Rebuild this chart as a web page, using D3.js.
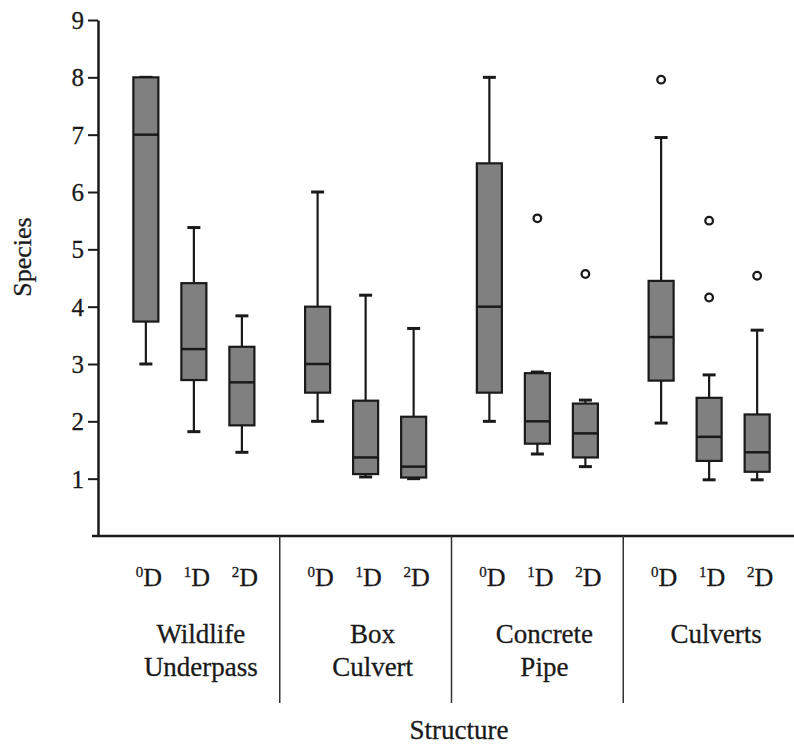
<!DOCTYPE html>
<html>
<head>
<meta charset="utf-8">
<script src="https://cdn.jsdelivr.net/npm/d3@7"></script>
<style>
  html, body { margin: 0; padding: 0; background: #fff; }
  svg { display: block; }
</style>
</head>
<body>
<svg id="chart" width="794" height="744"></svg>
<script>
// ---- data ----
const structures = ["Wildlife Underpass", "Box Culvert", "Concrete Pipe", "Culverts"];
const structureLabelLines = [["Wildlife", "Underpass"], ["Box", "Culvert"], ["Concrete", "Pipe"], ["Culverts"]];
const distances = ["0", "1", "2"];          // superscript before "D"
const whiskerLow = [[3.00, 1.82, 1.46], [2.00, 1.03, 1.00], [2.00, 1.43, 1.21], [1.97, 0.98, 0.98]];
const q1Values   = [[3.74, 2.72, 1.93], [2.50, 1.08, 1.02], [2.50, 1.61, 1.37], [2.71, 1.31, 1.12]];
const medians    = [[7.00, 3.26, 2.68], [3.00, 1.37, 1.21], [4.00, 2.00, 1.79], [3.47, 1.73, 1.46]];
const q3Values   = [[8.00, 4.41, 3.30], [4.00, 2.36, 2.08], [6.50, 2.84, 2.31], [4.45, 2.41, 2.12]];
const whiskerHigh= [[8.00, 5.38, 3.84], [6.00, 4.20, 3.62], [8.00, 2.86, 2.37], [6.95, 2.81, 3.59]];
// outliers: [structure index, distance index, value]
const outliers = [[2, 1, 5.54], [2, 2, 4.57], [3, 0, 7.96], [3, 1, 5.50], [3, 1, 4.16], [3, 2, 4.54]];
const yTicks = [1, 2, 3, 4, 5, 6, 7, 8, 9];
const yTitle = "Species";
const xTitle = "Structure";

// ---- layout ----
const FONT = "Liberation Serif";
const ink = "#1a1a1a";
const svg = d3.select("#chart");
const axisX = 98, axisBottom = 536, axisTop = 20;

const y = d3.scaleLinear().domain([0, 9]).range([axisBottom, axisTop]);
const xg = d3.scaleBand().domain(structures).range([108, 795]).paddingInner(0).paddingOuter(0);
const xi = d3.scaleBand().domain(distances).range([0, xg.bandwidth()])
  .paddingInner(0.479).paddingOuter(0.528);
const bw = xi.bandwidth();

const boxes = [];
structures.forEach((s, si) => distances.forEach((d, di) => {
  boxes.push({ s, d, si, di,
    lo: whiskerLow[si][di], q1: q1Values[si][di], med: medians[si][di],
    q3: q3Values[si][di], hi: whiskerHigh[si][di] });
}));
const cx = b => xg(b.s) + xi(b.d) + bw / 2;

// ---- axes ----
const yAxis = d3.axisLeft(y).tickValues(yTicks).tickFormat(d3.format("d"))
  .tickSize(10).tickSizeOuter(0).tickPadding(4);
const gy = svg.append("g").attr("transform", `translate(${axisX},0)`).call(yAxis)
  .attr("font-family", FONT);
gy.select(".domain").attr("stroke", ink).attr("stroke-width", 2.5);
gy.selectAll(".tick line").attr("stroke", ink).attr("stroke-width", 2);
gy.selectAll(".tick text").attr("font-size", 25).attr("dy", "0.34em")
  .style("font-family", FONT).attr("fill", ink)
  .attr("stroke", ink).attr("stroke-width", 0.3);

// x axis baseline
svg.append("line").attr("x1", axisX - 6).attr("x2", 794)
  .attr("y1", axisBottom).attr("y2", axisBottom)
  .attr("stroke", ink).attr("stroke-width", 2.5);

// group separators
structures.slice(1).forEach(s => {
  svg.append("line").attr("x1", xg(s)).attr("x2", xg(s))
    .attr("y1", axisBottom).attr("y2", 703)
    .attr("stroke", "#333").attr("stroke-width", 1.5);
});

// ---- boxes ----
const g = svg.append("g");
const bg = g.selectAll("g.box").data(boxes).join("g").attr("class", "box");
bg.append("line").attr("x1", cx).attr("x2", cx)
  .attr("y1", b => y(b.hi)).attr("y2", b => y(b.q3))
  .attr("stroke", ink).attr("stroke-width", 2.2);
bg.append("line").attr("x1", cx).attr("x2", cx)
  .attr("y1", b => y(b.q1)).attr("y2", b => y(b.lo))
  .attr("stroke", ink).attr("stroke-width", 2.2);
bg.append("line").attr("x1", b => cx(b) - 6.5).attr("x2", b => cx(b) + 6.5)
  .attr("y1", b => y(b.hi)).attr("y2", b => y(b.hi))
  .attr("stroke", ink).attr("stroke-width", 3);
bg.append("line").attr("x1", b => cx(b) - 6.5).attr("x2", b => cx(b) + 6.5)
  .attr("y1", b => y(b.lo)).attr("y2", b => y(b.lo))
  .attr("stroke", ink).attr("stroke-width", 3);
bg.append("rect").attr("x", b => cx(b) - bw / 2).attr("width", bw)
  .attr("y", b => y(b.q3)).attr("height", b => y(b.q1) - y(b.q3))
  .attr("fill", "#808080").attr("stroke", ink).attr("stroke-width", 2.2);
bg.append("line").attr("x1", b => cx(b) - bw / 2).attr("x2", b => cx(b) + bw / 2)
  .attr("y1", b => y(b.med)).attr("y2", b => y(b.med))
  .attr("stroke", ink).attr("stroke-width", 2.5);

g.selectAll("circle.out").data(outliers).join("circle").attr("class", "out")
  .attr("cx", o => xg(structures[o[0]]) + xi(distances[o[1]]) + bw / 2)
  .attr("cy", o => y(o[2])).attr("r", 3.8)
  .attr("fill", "#fff").attr("stroke", ink).attr("stroke-width", 2.3);

// ---- category labels ----
const sub = svg.append("g");
boxes.forEach(b => {
  const t = sub.append("text").attr("x", cx(b) + 3).attr("y", 586)
    .attr("text-anchor", "middle").attr("font-size", 26).style("font-family", FONT)
    .attr("fill", ink).attr("stroke", ink).attr("stroke-width", 0.3);
  t.append("tspan").attr("font-size", 15).attr("dy", -9).text(b.d);
  t.append("tspan").attr("dy", 9).text("D");
});

structures.forEach((s, si) => {
  const t = svg.append("text").attr("x", xg(s) + xg.bandwidth() / 2 + 7)
    .attr("y", 643).attr("text-anchor", "middle").attr("font-size", 27)
    .style("font-family", FONT).attr("fill", ink).attr("stroke", ink).attr("stroke-width", 0.3);
  structureLabelLines[si].forEach((line, li) => {
    t.append("tspan").attr("x", xg(s) + xg.bandwidth() / 2 + 7)
      .attr("dy", li === 0 ? 0 : 33).text(line);
  });
});

svg.append("text").attr("x", 459).attr("y", 739).attr("text-anchor", "middle")
  .attr("font-size", 27).style("font-family", FONT).attr("fill", ink)
  .attr("stroke", ink).attr("stroke-width", 0.3).text(xTitle);

svg.append("text").attr("transform", "translate(31,257) rotate(-90)")
  .attr("text-anchor", "middle").attr("font-size", 26).style("font-family", FONT)
  .attr("fill", ink).attr("stroke", ink).attr("stroke-width", 0.3).text(yTitle);
</script>
</body>
</html>
